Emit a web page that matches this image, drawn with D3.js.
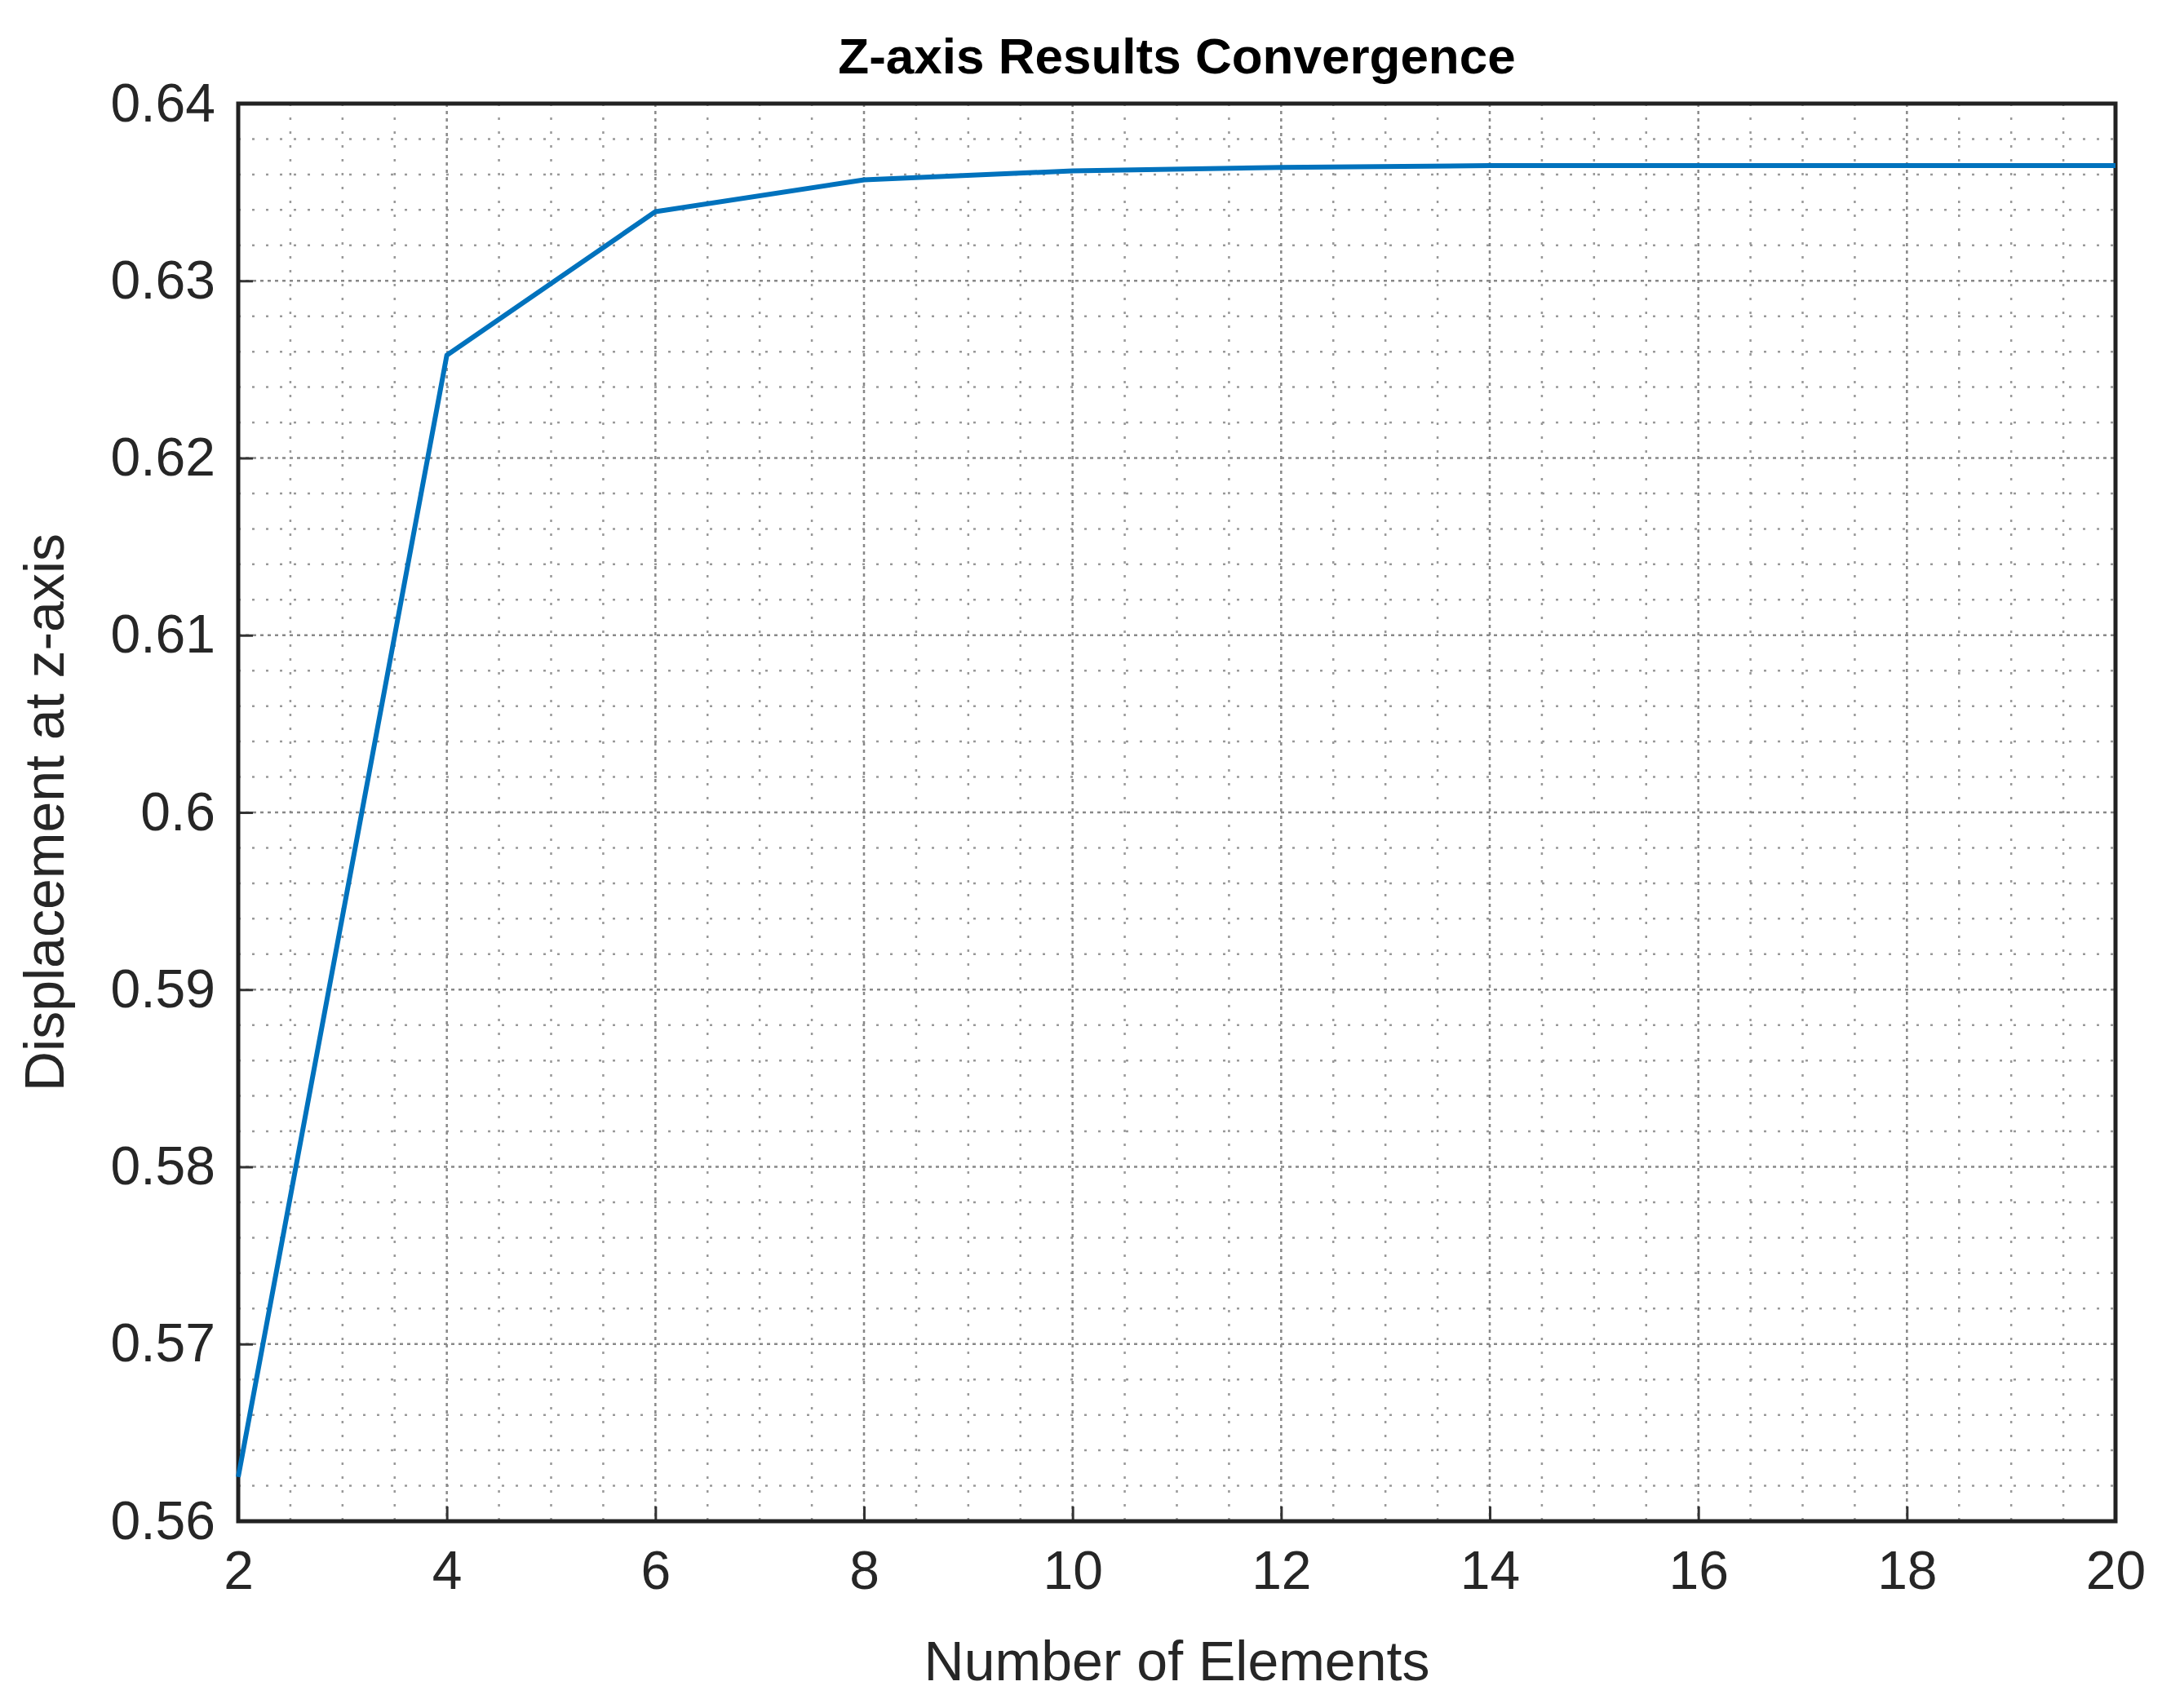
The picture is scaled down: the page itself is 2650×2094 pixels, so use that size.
<!DOCTYPE html>
<html>
<head>
<meta charset="utf-8">
<script src="https://cdn.jsdelivr.net/npm/d3@7"></script>
<style>
  body { margin: 0; background: #fff; }
  text { font-family: "Liberation Sans", Arial, sans-serif; fill: #262626; }
</style>
</head>
<body>
<svg id="chart" width="2650" height="2094"></svg>
<script>
var elements = [2, 4, 6, 8, 10, 12, 14, 16, 18, 20];
var displacement = [0.5625, 0.6258, 0.6339, 0.6357, 0.6362, 0.6364, 0.6365, 0.6365, 0.6365, 0.6365];
var xTicks = [2, 4, 6, 8, 10, 12, 14, 16, 18, 20];
var yTicks = [0.56, 0.57, 0.58, 0.59, 0.6, 0.61, 0.62, 0.63, 0.64];

var pLeft = 292, pRight = 2593, pTop = 127, pBottom = 1865;
var svg = d3.select('#chart');

var x = d3.scaleLinear().domain([2, 20]).range([pLeft, pRight]);
var y = d3.scaleLinear().domain([0.56, 0.64]).range([pBottom, pTop]);

// minor grid
var xMinor = d3.range(2, 20.01, 0.5).filter(function(d) { return d % 2 !== 0; });
var yMinor = d3.range(0, 41).map(function(i) { return 0.56 + i * 0.002; })
	.filter(function(d, i) { return i % 5 !== 0; });

var grid = svg.append('g');
grid.selectAll('.xm').data(xMinor).enter().append('line')
	.attr('x1', x).attr('x2', x).attr('y1', pTop).attr('y2', pBottom)
	.attr('stroke', '#999').attr('stroke-width', 2.5).attr('stroke-dasharray', '3,14');
grid.selectAll('.ym').data(yMinor).enter().append('line')
	.attr('y1', y).attr('y2', y).attr('x1', pLeft).attr('x2', pRight)
	.attr('stroke', '#999').attr('stroke-width', 2.5).attr('stroke-dasharray', '3,14');
grid.selectAll('.xg').data(xTicks).enter().append('line')
	.attr('x1', x).attr('x2', x).attr('y1', pTop).attr('y2', pBottom)
	.attr('stroke', '#888').attr('stroke-width', 2.5).attr('stroke-dasharray', '4,5');
grid.selectAll('.yg').data(yTicks).enter().append('line')
	.attr('y1', y).attr('y2', y).attr('x1', pLeft).attr('x2', pRight)
	.attr('stroke', '#888').attr('stroke-width', 2.5).attr('stroke-dasharray', '4,5');

// axes
var xAxis = svg.append('g').attr('transform', 'translate(0,' + pBottom + ')')
	.call(d3.axisBottom(x).tickValues(xTicks).tickSize(-18).tickPadding(30).tickFormat(d3.format('d')));
var yAxis = svg.append('g').attr('transform', 'translate(' + pLeft + ',0)')
	.call(d3.axisLeft(y).tickValues(yTicks).tickSize(-18).tickPadding(28).tickFormat(function(d) { return String(+d.toFixed(2)); }));
[xAxis, yAxis].forEach(function(a) {
	a.select('.domain').remove();
	a.selectAll('line').attr('stroke', '#333').attr('stroke-width', 3);
	a.selectAll('text').style('font-size', '66px').style('fill', '#262626');
});
xAxis.selectAll('text').attr('dy', '0.8em');

// frame
svg.append('rect').attr('x', pLeft).attr('y', pTop).attr('width', pRight - pLeft).attr('height', pBottom - pTop)
	.attr('fill', 'none').attr('stroke', '#222').attr('stroke-width', 5);

// line
svg.append('path').datum(d3.zip(elements, displacement))
	.attr('fill', 'none').attr('stroke', '#0072BD').attr('stroke-width', 6)
	.attr('stroke-linejoin', 'round')
	.attr('d', d3.line().x(function(d) { return x(d[0]); }).y(function(d) { return y(d[1]); }));

// titles
svg.append('text').attr('x', (pLeft + pRight) / 2).attr('y', 90).attr('text-anchor', 'middle')
	.style('font-size', '62px').style('font-weight', 'bold').style('fill', '#000')
	.text('Z-axis Results Convergence');
svg.append('text').attr('x', (pLeft + pRight) / 2).attr('y', 2060).attr('text-anchor', 'middle')
	.style('font-size', '68px').text('Number of Elements');
svg.append('text').attr('transform', 'translate(78,' + (pTop + pBottom) / 2 + ') rotate(-90)')
	.attr('text-anchor', 'middle').style('font-size', '68px').text('Displacement at z-axis');
</script>
</body>
</html>
